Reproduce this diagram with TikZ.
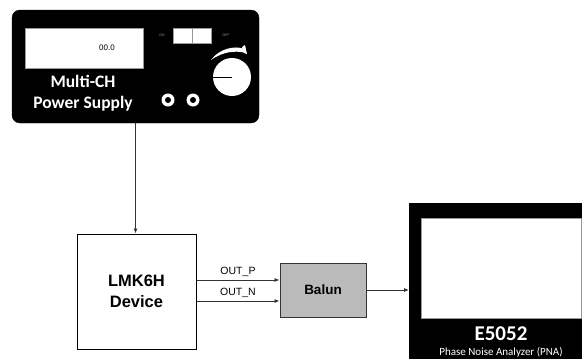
\documentclass[tikz,border=0pt]{standalone}
\usepackage{fontspec}
\setmainfont{Liberation Sans}
\newfontfamily\calib{Carlito}
\usetikzlibrary{arrows.meta}
\tikzset{
  conn/.style={draw=black!80, line width=0.8pt, -{Latex[length=5pt,width=4pt]}},
  blackpanel/.style={fill=black, draw=black, inner sep=0pt},
  whitebox/.style={fill=white, draw=black!40, line width=0.5pt, inner sep=0pt},
  devbox/.style={draw=black, line width=1pt, fill=white, inner sep=0pt, align=center},
  balunbox/.style={draw=black!80, line width=1pt, fill=black!27, inner sep=0pt},
  lbl/.style={inner sep=0pt, font=\fontsize{10.5}{12}\selectfont},
}
\begin{document}
\begin{tikzpicture}[x=1pt,y=-1pt]
\useasboundingbox (0,0) rectangle (582,359);
\clip (0,0) rectangle (582,359);
% Power supply
\node[blackpanel, rounded corners=8pt, minimum width=247pt, minimum height=113pt] (ps) at (135.5,66.5) {};
\node[whitebox, minimum width=118pt, minimum height=40pt] (disp) at (84,48) {};
\node[inner sep=0pt, font=\fontsize{8}{9}\selectfont] (dval) at (107,48) {00.0};
\node[whitebox, minimum width=19pt, minimum height=15pt] (sw1) at (182.5,35.5) {};
\node[whitebox, minimum width=19pt, minimum height=15pt] (sw2) at (201.5,35.5) {};
\node[inner sep=0pt, text=white!60!black, font=\fontsize{3.5}{4}\selectfont] (on) at (162,35) {ON};
\node[inner sep=0pt, text=white!60!black, font=\fontsize{3.5}{4}\selectfont] (off) at (226,35) {OFF};
\node[text=white, align=center, inner sep=0pt, font=\calib\bfseries\fontsize{17.5}{21}\selectfont] (pstext) at (83,93) {Multi-CH\\Power Supply};
\node[circle, fill=white, minimum size=13pt, inner sep=0pt] (j1) at (168,100) {};
\node[circle, fill=black, minimum size=6pt, inner sep=0pt] at (j1) {};
\node[circle, fill=white, minimum size=13pt, inner sep=0pt] (j2) at (193,100) {};
\node[circle, fill=black, minimum size=6pt, inner sep=0pt] at (j2) {};
\node[circle, fill=white, minimum size=38pt, inner sep=0pt] (knob) at (232,77) {};
\draw[black, line width=0.8pt] (knob.center) -- (knob.west);
\fill[white] (211,60) .. controls (219,49) and (234,45) .. (245,49) -- (246,53) .. controls (235,50) and (222,52) .. cycle;
\fill[white] (242,47) -- (245,45) -- (247,54) -- (244,53) -- cycle;
% LMK6H device
\node[devbox, minimum width=119pt, minimum height=115pt, font=\bfseries\fontsize{16.5}{21}\selectfont] (lmk) at (136.5,291.5) {LMK6H\\Device};
% Balun
\node[balunbox, minimum width=86pt, minimum height=54pt, font=\bfseries\fontsize{13.5}{16}\selectfont] (balun) at (323,290) {Balun};
% E5052
\node[blackpanel, minimum width=190pt, minimum height=170pt, anchor=north west] (pna) at (409,203) {};
\node[whitebox, minimum width=160pt, minimum height=100pt, anchor=north west] (screen) at (421,218) {};
\node[text=white, inner sep=0pt, font=\calib\bfseries\fontsize{21}{24}\selectfont] (pnat) at (501,334) {E5052};
\node[text=white, inner sep=0pt, font=\calib\fontsize{11}{12}\selectfont] (pnas) at (501,352) {Phase Noise Analyzer (PNA)};
% connectors
\draw[conn] (ps.south) -- (ps.south |- lmk.north);
\coordinate (pin) at (balun.west |- 0,280);
\coordinate (nin) at (balun.west |- 0,301);
\draw[conn] (lmk.east |- pin) -- node[lbl, above=3pt] {OUT\_P} (pin);
\draw[conn] (lmk.east |- nin) -- node[lbl, above=3pt] {OUT\_N} (nin);
\draw[conn] (balun.east) -- (pna.west |- balun.east);
\end{tikzpicture}
\end{document}
